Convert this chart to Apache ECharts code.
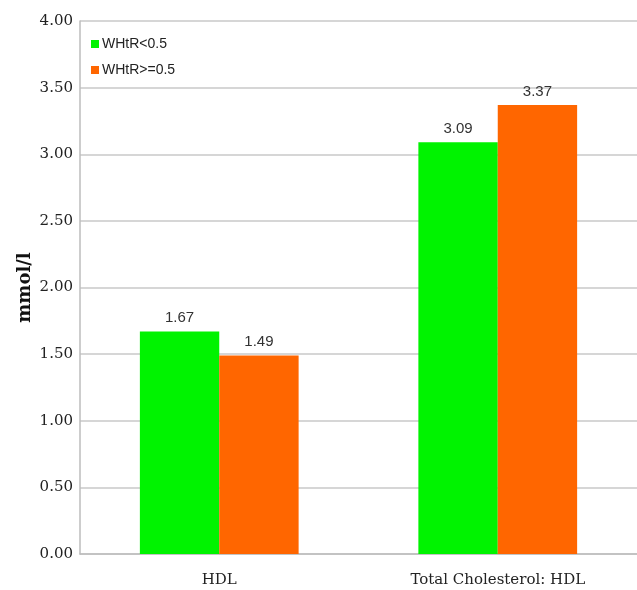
<!DOCTYPE html>
<html>
<head>
<meta charset="utf-8">
<script src="https://cdn.jsdelivr.net/npm/echarts@6/dist/echarts.min.js"></script>
<style>html,body{margin:0;padding:0;background:#fff;}#c{width:637px;height:590px;}</style>
</head>
<body>
<div id="c"></div>
<script>
const categories = ['HDL', 'Total Cholesterol: HDL'];
const seriesNames = ['WHtR<0.5', 'WHtR>=0.5'];
const lowValues = [1.67, 3.09];
const highValues = [1.49, 3.37];
const yTicks = [0, 0.5, 1, 1.5, 2, 2.5, 3, 3.5, 4];

const chart = echarts.init(document.getElementById('c'));
const labelStyle = {
  show: true, position: 'top', distance: 6,
  fontFamily: 'Liberation Sans', fontSize: 15, color: '#333',
  formatter: p => p.value.toFixed(2)
};
chart.setOption({
  animation: false,
  grid: { left: 80, right: 0, top: 21, bottom: 36, containLabel: false },
  legend: {
    orient: 'vertical', left: 86, top: 32, itemWidth: 8, itemHeight: 8, itemGap: 12,
    icon: 'rect',
    textStyle: { fontFamily: 'Liberation Sans', fontSize: 14, color: '#222', padding: [0, 0, 0, -2] },
    data: seriesNames
  },
  xAxis: {
    type: 'category', data: categories,
    axisLine: { lineStyle: { color: '#bdbdbd', width: 1.5 } },
    axisTick: { show: false },
    axisLabel: { fontFamily: 'DejaVu Serif', fontSize: 15, color: '#222', margin: 19 }
  },
  yAxis: {
    type: 'value', min: yTicks[0], max: yTicks[yTicks.length - 1], interval: 0.5,
    name: 'mmol/l', nameLocation: 'middle', nameGap: 46, nameMoveOverlap: false,
    nameTextStyle: { fontFamily: 'DejaVu Serif', fontWeight: 'bold', fontSize: 18, color: '#111' },
    axisLine: { show: true, lineStyle: { color: '#bdbdbd', width: 1.5 } },
    axisTick: { show: false },
    splitLine: { lineStyle: { color: '#c8c8c8', width: 1.5 } },
    axisLabel: { fontFamily: 'DejaVu Serif', fontSize: 15, color: '#222', margin: 7,
      formatter: v => v.toFixed(2) }
  },
  series: [
    { name: seriesNames[0], type: 'bar', data: lowValues, barGap: '0%', barCategoryGap: '43%',
      itemStyle: { color: '#00f300' }, label: labelStyle },
    { name: seriesNames[1], type: 'bar', data: highValues,
      itemStyle: { color: '#ff6600' }, label: labelStyle }
  ]
});
</script>
</body>
</html>
